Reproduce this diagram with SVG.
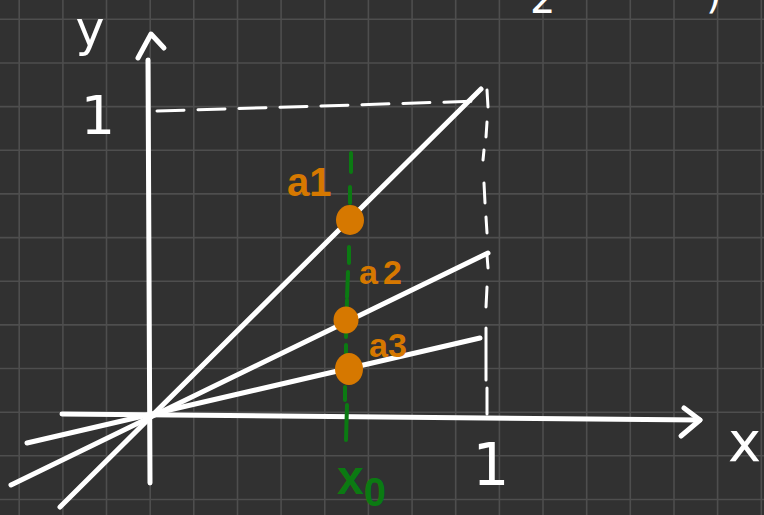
<svg xmlns="http://www.w3.org/2000/svg" width="764" height="515" viewBox="0 0 764 515">
<style>
.grid{stroke:#4e4e4e;stroke-width:1.6;fill:none}
.w{stroke:#ffffff;stroke-width:5;stroke-linecap:round;stroke-linejoin:round;fill:none}
.dash{stroke:#ffffff;stroke-width:3;stroke-linecap:round;fill:none}
.gdash{stroke:#0b7a12;stroke-width:4;stroke-linecap:round;fill:none}
.pt{fill:#d67800}
.lw{fill:#ffffff;font-family:"DejaVu Sans","Liberation Sans",sans-serif}
.lo{fill:#d67800;font-family:"Liberation Sans","DejaVu Sans",sans-serif;font-weight:bold}
.lg{fill:#0b7a12;font-family:"Liberation Sans","DejaVu Sans",sans-serif;font-weight:bold}
</style>
<rect width="764" height="515" fill="#313131"/>
<g id="grid">
<path class="grid" d="M19.2 0V515M62.9 0V515M106.5 0V515M150.2 0V515M193.8 0V515M237.5 0V515M281.1 0V515M324.8 0V515M368.4 0V515M412.1 0V515M455.7 0V515M499.4 0V515M543 0V515M586.7 0V515M630.3 0V515M674 0V515M717.6 0V515M761.3 0V515"/>
<path class="grid" d="M0 19.3H764M0 63H764M0 106.6H764M0 150.3H764M0 193.9H764M0 237.6H764M0 281.2H764M0 324.9H764M0 368.5H764M0 412.2H764M0 455.8H764M0 499.5H764"/>
</g>
<g id="guides">
<path class="dash" d="M157 111L482 101" stroke-dasharray="27 14"/>
<path class="dash" d="M487 90L488 107M487 122L486 137M484 150L483 160M484 183L485 203M486 217L487 233M487 255L488 268M487 287L486 307M486 328L486 380M487 388L487 414"/>
</g>
<g id="connectors">
<path class="w" d="M150 483L148 60"/>
<path class="w" d="M138 58L151 34L164 48"/>
<path class="w" d="M62 414L700 420"/>
<path class="w" d="M684 408L700 420L681 436"/>
<path class="w" d="M60 507L481 89"/>
<path class="w" d="M11 485L488 253"/>
<path class="w" d="M27 443L480 338"/>
</g>
<g id="x0-line">
<path class="gdash" d="M351 153L351 172M350 187L350 203M349 247L349 263M348 272L347 297M347 300L346 337M346 345L346 353M345 387L345 400"/>
<path class="gdash" d="M347 405L346 440" stroke-width="8"/>
</g>
<g id="a1"><ellipse class="pt" cx="350" cy="220" rx="14" ry="15"/><text class="lo" x="287" y="196" font-size="40">a1</text></g>
<g id="a2"><ellipse class="pt" cx="346" cy="320" rx="12.5" ry="13.5"/><text class="lo" x="359" y="284" font-size="34" letter-spacing="5">a2</text></g>
<g id="a3"><ellipse class="pt" cx="349" cy="369" rx="14" ry="16"/><text class="lo" x="369" y="357" font-size="34">a3</text></g>
<g id="labels">
<text class="lw" x="90" y="46" font-size="49" text-anchor="middle">y</text>
<text class="lw" x="98" y="134" font-size="54" text-anchor="middle">1</text>
<text class="lw" x="491" y="485" font-size="58" text-anchor="middle">1</text>
<text class="lw" x="728" y="461" font-size="56">x</text>
<text class="lw" x="530" y="13" font-size="40">2</text>
<text class="lw" x="706" y="8" font-size="40">)</text>
<text class="lg" x="337" y="494" font-size="48">x<tspan font-size="40" y="506">0</tspan></text>
</g>
</svg>
